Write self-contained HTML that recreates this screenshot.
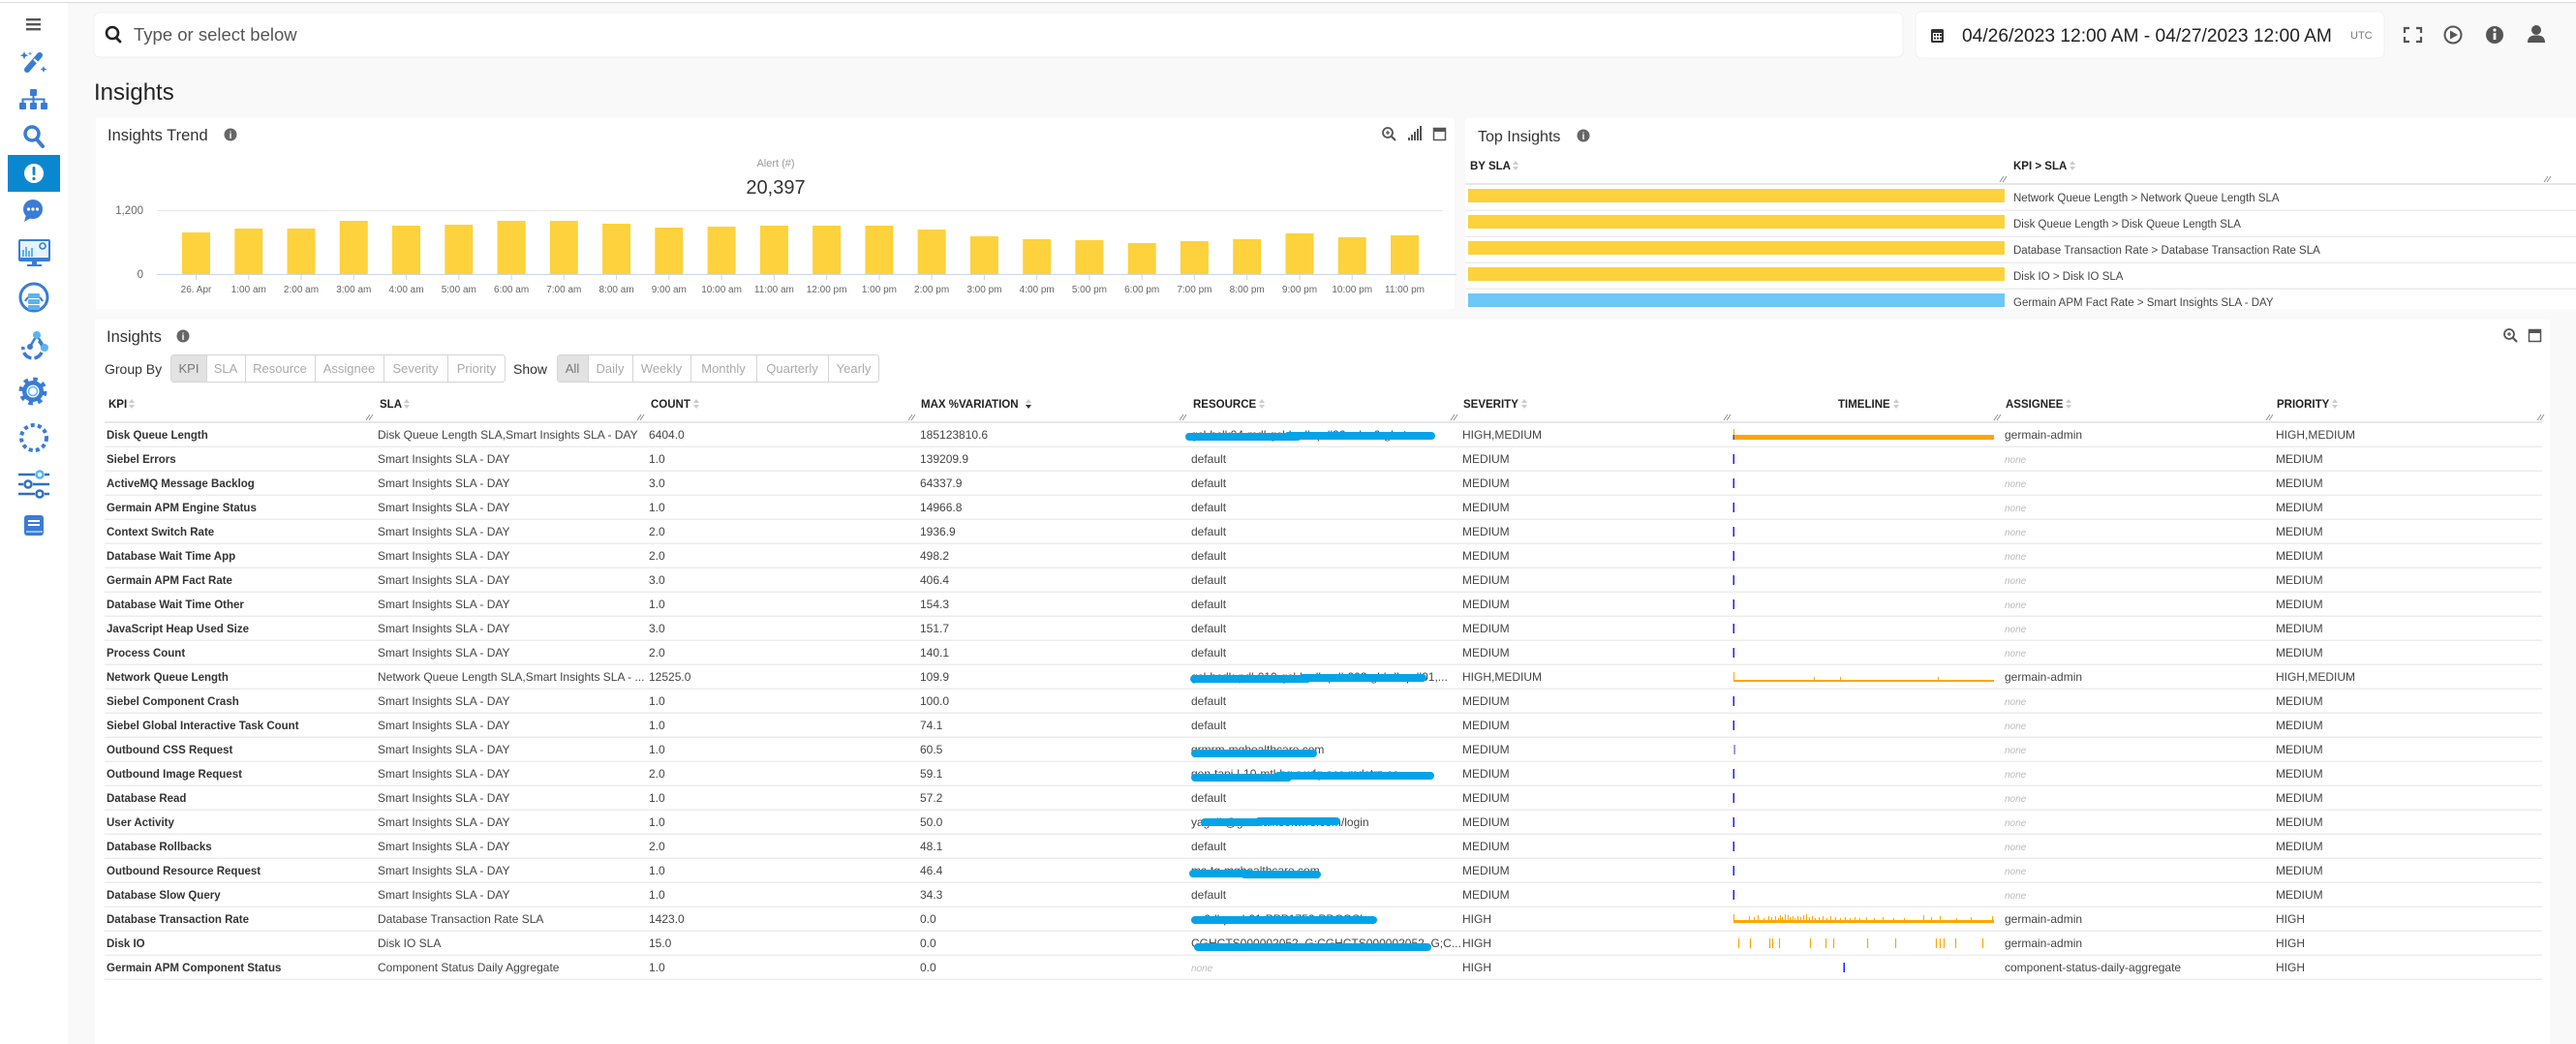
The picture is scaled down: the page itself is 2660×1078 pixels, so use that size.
<!DOCTYPE html>
<html><head><meta charset="utf-8">
<style>
html,body{margin:0;padding:0;background:#f9f9f9;overflow:hidden;}
svg{display:block;font-family:"Liberation Sans",Arial,sans-serif;}
.k{font-size:11.5px;font-weight:bold;fill:#333}
.r{font-size:12px;fill:#444}
.n{font-size:10px;font-style:italic;fill:#bbb}
.h{font-size:11.5px;font-weight:bold;fill:#222}
.tk{font-size:10px;fill:#666}
.bt{font-size:13px;fill:#aaa}
.ti{font-size:16.5px;fill:#333}
</style></head><body>
<svg width="2660" height="1078" viewBox="0 0 2660 1078" xmlns="http://www.w3.org/2000/svg">
<rect width="2660" height="1078" fill="#f9f9f9"/>
<rect x="0" y="0" width="2660" height="2" fill="#fff"/>
<rect x="0" y="2" width="2660" height="1.2" fill="#dcdcdc"/>
<!-- sidebar -->
<rect x="0" y="3" width="70" height="1075" fill="#fff"/>
<g fill="#555"><rect x="27" y="19" width="15" height="2.4"/><rect x="27" y="24" width="15" height="2.4"/><rect x="27" y="29" width="15" height="2.4"/></g>
<!-- wand -->
<line x1="28" y1="72" x2="41" y2="57" stroke="#3a7cd5" stroke-width="6" stroke-linecap="round"/>
<line x1="35" y1="61" x2="39" y2="65" stroke="#fff" stroke-width="2"/>
<path d="M25 53 l1.2 3 3 1.2 -3 1.2 -1.2 3 -1.2 -3 -3 -1.2 3 -1.2z" fill="#3a7cd5"/>
<path d="M45 68 l1 2.5 2.5 1 -2.5 1 -1 2.5 -1 -2.5 -2.5 -1 2.5 -1z" fill="#3a7cd5"/>
<path d="M31 53 l.7 1.6 1.6 .7 -1.6 .7 -.7 1.6 -.7 -1.6 -1.6 -.7 1.6 -.7z" fill="#5ab4f0"/>
<!-- sitemap -->
<g fill="#3a7cd5"><rect x="31" y="92" width="7" height="7" rx="1"/><rect x="20" y="106" width="7" height="7" rx="1"/><rect x="31" y="106" width="7" height="7" rx="1"/><rect x="42" y="106" width="7" height="7" rx="1"/></g>
<path d="M34.5 99 V106 M23.5 106 V102.5 H45.5 V106" stroke="#3a7cd5" stroke-width="2" fill="none"/>
<!-- search -->
<circle cx="33" cy="138" r="7" stroke="#3a7cd5" stroke-width="3.5" fill="none"/>
<line x1="38" y1="144" x2="44" y2="151" stroke="#3a7cd5" stroke-width="4" stroke-linecap="round"/>
<!-- active -->
<rect x="8" y="160" width="54" height="38" fill="#0a88cf"/>
<circle cx="35" cy="179" r="10" fill="#fff"/>
<rect x="33.6" y="172" width="2.8" height="9" rx="1" fill="#0a88cf"/><circle cx="35" cy="184.5" r="1.6" fill="#0a88cf"/>
<!-- chat -->
<circle cx="34" cy="216" r="10" fill="#3a7cd5"/><path d="M27 222 L25 229 L32 225z" fill="#3a7cd5"/>
<g fill="#fff"><circle cx="29.5" cy="216" r="1.6"/><circle cx="34" cy="216" r="1.6"/><circle cx="38.5" cy="216" r="1.6"/></g>
<!-- monitor -->
<rect x="19" y="247" width="33" height="23" rx="2" fill="#3a7cd5"/>
<rect x="21" y="249" width="29" height="17" fill="#e6f3fd"/>
<g fill="#5ab4f0"><rect x="23" y="258" width="2" height="7"/><rect x="26" y="255" width="2" height="10"/><rect x="29" y="259" width="2" height="6"/><rect x="32" y="256" width="2" height="9"/></g>
<circle cx="44" cy="254" r="3" stroke="#3a7cd5" stroke-width="1.6" fill="none"/>
<rect x="33" y="270" width="5" height="3" fill="#3a7cd5"/><rect x="28" y="273" width="15" height="2" fill="#3a7cd5"/>
<!-- db circle -->
<circle cx="35" cy="307" r="14" stroke="#3a7cd5" stroke-width="3" fill="none"/>
<path d="M26 311 A10 10 0 0 1 44 311" stroke="#3a7cd5" stroke-width="2" fill="none"/>
<g fill="#5ab4f0"><rect x="29" y="303" width="12" height="5" rx="1"/><rect x="29" y="309" width="12" height="5" rx="1"/><rect x="29" y="315" width="12" height="5" rx="1"/></g>
<!-- network -->
<path d="M40 352 A10 10 0 1 1 24 358" stroke="#3a7cd5" stroke-width="3.5" fill="none" stroke-dasharray="10 3"/>
<path d="M38 346 L31 358 M38 346 L46 359" stroke="#3a7cd5" stroke-width="2.5"/>
<circle cx="38" cy="346" r="4" fill="#5ab4f0"/><circle cx="46" cy="359" r="4" fill="#5ab4f0"/><circle cx="31" cy="358" r="3" fill="#3a7cd5"/>
<!-- gear -->
<circle cx="34" cy="404" r="11" fill="#3a7cd5"/>
<circle cx="34" cy="404" r="12.5" stroke="#3a7cd5" stroke-width="4" fill="none" stroke-dasharray="4.5 5.3"/>
<circle cx="34" cy="404" r="6.5" fill="#fff"/><circle cx="34" cy="404" r="4.5" stroke="#5ab4f0" stroke-width="1.5" fill="none"/>
<!-- dashed circle -->
<circle cx="35" cy="452" r="13" stroke="#3a7cd5" stroke-width="4" fill="none" stroke-dasharray="4 3.2"/>
<!-- sliders -->
<g stroke-width="2.5" fill="none">
<path d="M19 490 H36 M46 490 H51" stroke="#2f6fc4"/><circle cx="41" cy="490" r="3.5" stroke="#5ab4f0"/>
<path d="M19 500 H24 M34 500 H51" stroke="#2f6fc4"/><circle cx="29" cy="500" r="3.5" stroke="#2f6fc4"/>
<path d="M19 510 H36 M46 510 H51" stroke="#2f6fc4"/><circle cx="41" cy="510" r="3.5" stroke="#2f6fc4"/>
</g>
<!-- book -->
<rect x="25" y="532" width="20" height="21" rx="3" fill="#3a7cd5"/>
<rect x="29" y="537" width="12" height="2" fill="#fff"/><rect x="29" y="541" width="12" height="2" fill="#fff"/><rect x="27" y="548" width="17" height="2" fill="#8fc4f0"/>

<!-- top bar -->
<rect x="97" y="13" width="1868" height="46" rx="6" fill="#fff" stroke="#f0f0f0"/>
<circle cx="116" cy="34" r="6" stroke="#222" stroke-width="2.6" fill="none"/>
<line x1="120" y1="39" x2="124" y2="43" stroke="#222" stroke-width="2.8" stroke-linecap="round"/>
<text x="138" y="42" style="font-size:18.5px;fill:#555">Type or select below</text>
<rect x="1978" y="12" width="484" height="48" rx="6" fill="#fff" stroke="#f0f0f0"/>
<rect x="1994" y="30" width="13" height="14" rx="1.5" fill="#333"/>
<rect x="1996" y="34" width="9" height="8" fill="#fff"/>
<g fill="#333"><rect x="1997" y="35" width="2" height="2"/><rect x="2000" y="35" width="2" height="2"/><rect x="2003" y="35" width="2" height="2"/><rect x="1997" y="38.5" width="2" height="2"/><rect x="2000" y="38.5" width="2" height="2"/><rect x="2003" y="38.5" width="2" height="2"/></g>
<text x="2026" y="43" style="font-size:19.2px;fill:#222">04/26/2023 12:00 AM - 04/27/2023 12:00 AM</text>
<text x="2427" y="40" style="font-size:11px;fill:#777">UTC</text>
<path d="M2483 34 V29 H2488 M2495 29 H2500 V34 M2500 38 V43 H2495 M2488 43 H2483 V38" stroke="#555" stroke-width="2.2" fill="none"/>
<circle cx="2533" cy="36" r="8.5" stroke="#555" stroke-width="2" fill="none"/>
<path d="M2530 31.5 L2538 36 L2530 40.5z" fill="#555"/>
<circle cx="2576" cy="36" r="9" fill="#555"/>
<rect x="2574.6" y="34" width="2.8" height="7" fill="#fff"/><circle cx="2576" cy="31" r="1.6" fill="#fff"/>
<circle cx="2619" cy="31" r="5" fill="#555"/>
<path d="M2610 44 Q2610 36 2619 36.5 Q2628 36 2628 44z" fill="#555"/>

<text x="97" y="103" style="font-size:24px;fill:#222">Insights</text>

<!-- Insights Trend panel -->
<rect x="99" y="122" width="1403" height="197" fill="#fff"/>
<text x="111" y="145" class="ti">Insights Trend</text>
<circle cx="238" cy="139" r="6.5" fill="#666"/><text x="238" y="143" text-anchor="middle" style="font-size:10px;font-weight:bold;fill:#fff">i</text>
<!-- chart icons -->
<circle cx="1433" cy="137" r="5" stroke="#555" stroke-width="1.8" fill="none"/>
<line x1="1437" y1="141" x2="1441" y2="145" stroke="#555" stroke-width="2.2"/>
<path d="M1431 137 H1435 M1433 135 V139" stroke="#555" stroke-width="1.3"/>
<g fill="#555"><rect x="1454" y="142" width="2" height="3"/><rect x="1457" y="139" width="2" height="6"/><rect x="1460" y="136" width="2" height="9"/><rect x="1463" y="133" width="2" height="12"/><rect x="1466" y="130" width="2" height="15"/></g>
<rect x="1480.5" y="132.5" width="12" height="12" stroke="#555" stroke-width="1.5" fill="#fff"/>
<rect x="1480.5" y="132.5" width="12" height="3.5" fill="#555"/>
<text x="801" y="172" text-anchor="middle" style="font-size:11px;fill:#999">Alert (#)</text>
<text x="801" y="200" text-anchor="middle" style="font-size:20px;fill:#333">20,397</text>
<line x1="162" y1="217.5" x2="1490" y2="217.5" stroke="#e6e6e6" stroke-width="1"/>
<text x="148" y="221" text-anchor="end" style="font-size:11.5px;fill:#666">1,200</text>
<text x="148" y="287" text-anchor="end" style="font-size:11.5px;fill:#666">0</text>
<g fill="#fdd23c">
<rect x="188" y="240" width="29" height="43"/>
<rect x="242.3" y="236" width="29" height="47"/>
<rect x="296.5" y="236" width="29" height="47"/>
<rect x="350.8" y="228" width="29" height="55"/>
<rect x="405" y="233" width="29" height="50"/>
<rect x="459.3" y="232" width="29" height="51"/>
<rect x="513.6" y="228" width="29" height="55"/>
<rect x="567.8" y="228" width="29" height="55"/>
<rect x="622.1" y="231" width="29" height="52"/>
<rect x="676.3" y="235" width="29" height="48"/>
<rect x="730.6" y="234" width="29" height="49"/>
<rect x="784.9" y="233" width="29" height="50"/>
<rect x="839.1" y="233" width="29" height="50"/>
<rect x="893.4" y="233" width="29" height="50"/>
<rect x="947.6" y="237" width="29" height="46"/>
<rect x="1001.9" y="244" width="29" height="39"/>
<rect x="1056.2" y="247" width="29" height="36"/>
<rect x="1110.4" y="248" width="29" height="35"/>
<rect x="1164.7" y="251" width="29" height="32"/>
<rect x="1218.9" y="249" width="29" height="34"/>
<rect x="1273.2" y="247" width="29" height="36"/>
<rect x="1327.5" y="241" width="29" height="42"/>
<rect x="1381.7" y="245" width="29" height="38"/>
<rect x="1436" y="243" width="29" height="40"/>
</g>
<line x1="162" y1="283.5" x2="1504" y2="283.5" stroke="#ccd6eb" stroke-width="1"/>
<g stroke="#ccd6eb" stroke-width="1">
<path d="M202.5 284V289M256.8 284V289M311 284V289M365.3 284V289M419.5 284V289M473.8 284V289M528.1 284V289M582.3 284V289M636.6 284V289M690.8 284V289M745.1 284V289M799.4 284V289M853.6 284V289M907.9 284V289M962.1 284V289M1016.4 284V289M1070.7 284V289M1124.9 284V289M1179.2 284V289M1233.4 284V289M1287.7 284V289M1342 284V289M1396.2 284V289M1450.5 284V289"/>
</g>
<g class="tk" text-anchor="middle">
<text x="202.5" y="302">26. Apr</text><text x="256.8" y="302">1:00 am</text><text x="311" y="302">2:00 am</text><text x="365.3" y="302">3:00 am</text><text x="419.5" y="302">4:00 am</text><text x="473.8" y="302">5:00 am</text><text x="528.1" y="302">6:00 am</text><text x="582.3" y="302">7:00 am</text><text x="636.6" y="302">8:00 am</text><text x="690.8" y="302">9:00 am</text><text x="745.1" y="302">10:00 am</text><text x="799.4" y="302">11:00 am</text><text x="853.6" y="302">12:00 pm</text><text x="907.9" y="302">1:00 pm</text><text x="962.1" y="302">2:00 pm</text><text x="1016.4" y="302">3:00 pm</text><text x="1070.7" y="302">4:00 pm</text><text x="1124.9" y="302">5:00 pm</text><text x="1179.2" y="302">6:00 pm</text><text x="1233.4" y="302">7:00 pm</text><text x="1287.7" y="302">8:00 pm</text><text x="1342" y="302">9:00 pm</text><text x="1396.2" y="302">10:00 pm</text><text x="1450.5" y="302">11:00 pm</text>
</g>

<!-- Top Insights panel -->
<rect x="1513" y="122" width="1147" height="197" fill="#fff"/>
<text x="1526" y="146" style="font-size:16px;fill:#333">Top Insights</text>
<circle cx="1635" cy="140" r="6.5" fill="#666"/><text x="1635" y="144" text-anchor="middle" style="font-size:10px;font-weight:bold;fill:#fff">i</text>
<text x="1518" y="175" class="h">BY SLA</text>
<text x="2079" y="175" class="h">KPI &gt; SLA</text>
<g fill="#ccc"><path d="M1562 170 L1565 166 L1568 170z M1562 172 L1565 176 L1568 172z"/><path d="M2137 170 L2140 166 L2143 170z M2137 172 L2140 176 L2143 172z"/></g>
<g stroke="#888" stroke-width="0.9"><path d="M2065 188 L2069 182 M2068 188 L2072 182 M2627 188 L2631 182 M2630 188 L2634 182"/></g>
<rect x="1513" y="189" width="1147" height="2" fill="#e8e8e8"/>
<g fill="#ececec"><rect x="1513" y="216.5" width="1147" height="1.5"/><rect x="1513" y="243.5" width="1147" height="1.5"/><rect x="1513" y="270.5" width="1147" height="1.5"/><rect x="1513" y="297.5" width="1147" height="1.5"/></g>
<g fill="#fdd23c"><rect x="1516" y="195" width="554" height="14"/><rect x="1516" y="222" width="554" height="14"/><rect x="1516" y="249" width="554" height="14"/><rect x="1516" y="276" width="554" height="14"/></g>
<rect x="1516" y="303" width="554" height="14" fill="#6cc8f6"/>
<g style="font-size:11.5px;fill:#444">
<text x="2079" y="208">Network Queue Length &gt; Network Queue Length SLA</text>
<text x="2079" y="235">Disk Queue Length &gt; Disk Queue Length SLA</text>
<text x="2079" y="262">Database Transaction Rate &gt; Database Transaction Rate SLA</text>
<text x="2079" y="289">Disk IO &gt; Disk IO SLA</text>
<text x="2079" y="316">Germain APM Fact Rate &gt; Smart Insights SLA - DAY</text>
</g>
<rect x="1513" y="319" width="1147" height="11" fill="#f9f9f9"/>

<!-- Insights table panel -->
<rect x="98" y="330" width="2535" height="748" fill="#fff"/>
<text x="110" y="353" class="ti">Insights</text>
<circle cx="189" cy="347" r="6.5" fill="#666"/><text x="189" y="351" text-anchor="middle" style="font-size:10px;font-weight:bold;fill:#fff">i</text>
<circle cx="2591" cy="345" r="5" stroke="#555" stroke-width="1.8" fill="none"/>
<line x1="2595" y1="349" x2="2599" y2="353" stroke="#555" stroke-width="2.2"/>
<path d="M2589 345 H2593 M2591 343 V347" stroke="#555" stroke-width="1.3"/>
<rect x="2611.5" y="340.5" width="12" height="12" stroke="#555" stroke-width="1.5" fill="#fff"/>
<rect x="2611.5" y="340.5" width="12" height="3.5" fill="#555"/>

<text x="108" y="386" style="font-size:14px;fill:#333">Group By</text>
<rect x="176.5" y="366.5" width="345" height="28" rx="3" fill="#fff" stroke="#d5d5d5"/>
<rect x="177" y="367" width="36" height="27" fill="#e2e2e2"/>
<g stroke="#d5d5d5"><path d="M213.5 367V394M253.5 367V394M325.5 367V394M396.5 367V394M462.5 367V394"/></g>
<g class="bt" text-anchor="middle">
<text x="195" y="385" style="fill:#777">KPI</text><text x="233" y="385">SLA</text><text x="289" y="385">Resource</text><text x="360.5" y="385">Assignee</text><text x="429" y="385">Severity</text><text x="492" y="385">Priority</text>
</g>
<text x="530" y="386" style="font-size:14px;fill:#333">Show</text>
<rect x="575.5" y="366.5" width="332" height="28" rx="3" fill="#fff" stroke="#d5d5d5"/>
<rect x="576" y="367" width="31" height="27" fill="#e2e2e2"/>
<g stroke="#d5d5d5"><path d="M607.5 367V394M653.5 367V394M713.5 367V394M781.5 367V394M855.5 367V394"/></g>
<g class="bt" text-anchor="middle">
<text x="591" y="385" style="fill:#777">All</text><text x="630" y="385">Daily</text><text x="683" y="385">Weekly</text><text x="747" y="385">Monthly</text><text x="818" y="385">Quarterly</text><text x="881.5" y="385">Yearly</text>
</g>

<!-- table header -->
<g class="h">
<text x="112" y="421">KPI</text><text x="392" y="421">SLA</text><text x="672" y="421">COUNT</text><text x="951" y="421">MAX %VARIATION</text><text x="1232" y="421">RESOURCE</text><text x="1511" y="421">SEVERITY</text><text x="1898" y="421">TIMELINE</text><text x="2071" y="421">ASSIGNEE</text><text x="2351" y="421">PRIORITY</text>
</g>
<g fill="#ccc">
<path d="M133 416L136 412L139 416zM133 418L136 422L139 418z"/>
<path d="M417 416L420 412L423 416zM417 418L420 422L423 418z"/>
<path d="M716 416L719 412L722 416zM716 418L719 422L722 418z"/>
<path d="M1300 416L1303 412L1306 416zM1300 418L1303 422L1306 418z"/>
<path d="M1571 416L1574 412L1577 416zM1571 418L1574 422L1577 418z"/>
<path d="M1955 416L1958 412L1961 416zM1955 418L1958 422L1961 418z"/>
<path d="M2133 416L2136 412L2139 416zM2133 418L2136 422L2139 418z"/>
<path d="M2408 416L2411 412L2414 416zM2408 418L2411 422L2414 418z"/>
</g>
<path d="M1059 418L1062 422L1065 418z" fill="#333"/><path d="M1059 416L1062 412L1065 416z" fill="#ccc"/>
<g stroke="#888" stroke-width="0.9">
<path d="M378 434L382 428M381 434L385 428M658 434L662 428M661 434L665 428M938 434L942 428M941 434L945 428M1218 434L1222 428M1221 434L1225 428M1498 434L1502 428M1501 434L1505 428M1780 434L1784 428M1783 434L1787 428M2059 434L2063 428M2062 434L2066 428M2340 434L2344 428M2343 434L2347 428M2620 434L2624 428M2623 434L2627 428"/>
</g>
<rect x="108" y="435" width="2517" height="2" fill="#e6e6e6"/>
<g fill="#ececec">
<rect x="108" y="460.5" width="2517" height="1.5"/><rect x="108" y="485.5" width="2517" height="1.5"/><rect x="108" y="510.5" width="2517" height="1.5"/><rect x="108" y="535.5" width="2517" height="1.5"/><rect x="108" y="560.5" width="2517" height="1.5"/><rect x="108" y="585.5" width="2517" height="1.5"/><rect x="108" y="610.5" width="2517" height="1.5"/><rect x="108" y="635.5" width="2517" height="1.5"/><rect x="108" y="660.5" width="2517" height="1.5"/><rect x="108" y="685.5" width="2517" height="1.5"/><rect x="108" y="710.5" width="2517" height="1.5"/><rect x="108" y="735.5" width="2517" height="1.5"/><rect x="108" y="760.5" width="2517" height="1.5"/><rect x="108" y="785.5" width="2517" height="1.5"/><rect x="108" y="810.5" width="2517" height="1.5"/><rect x="108" y="835.5" width="2517" height="1.5"/><rect x="108" y="860.5" width="2517" height="1.5"/><rect x="108" y="885.5" width="2517" height="1.5"/><rect x="108" y="910.5" width="2517" height="1.5"/><rect x="108" y="935.5" width="2517" height="1.5"/><rect x="108" y="960.5" width="2517" height="1.5"/><rect x="108" y="985.5" width="2517" height="1.5"/><rect x="108" y="1010.5" width="2517" height="1.5"/>
</g>

<!-- rows -->
<g transform="translate(0,453)"><text x="110" class="k">Disk Queue Length</text><text x="390" class="r">Disk Queue Length SLA,Smart Insights SLA - DAY</text><text x="670" class="r">6404.0</text><text x="950" class="r">185123810.6</text><text x="1230" class="r">gcl-hclk04-mdl-gcl-hcdk-pdl26-xdw-0-gl-cts...</text><text x="1510" class="r">HIGH,MEDIUM</text><text x="2070" class="r">germain-admin</text><text x="2350" class="r">HIGH,MEDIUM</text></g>
<g transform="translate(0,478)"><text x="110" class="k">Siebel Errors</text><text x="390" class="r">Smart Insights SLA - DAY</text><text x="670" class="r">1.0</text><text x="950" class="r">139209.9</text><text x="1230" class="r">default</text><text x="1510" class="r">MEDIUM</text><text x="2070" class="n">none</text><text x="2350" class="r">MEDIUM</text></g>
<g transform="translate(0,503)"><text x="110" class="k">ActiveMQ Message Backlog</text><text x="390" class="r">Smart Insights SLA - DAY</text><text x="670" class="r">3.0</text><text x="950" class="r">64337.9</text><text x="1230" class="r">default</text><text x="1510" class="r">MEDIUM</text><text x="2070" class="n">none</text><text x="2350" class="r">MEDIUM</text></g>
<g transform="translate(0,528)"><text x="110" class="k">Germain APM Engine Status</text><text x="390" class="r">Smart Insights SLA - DAY</text><text x="670" class="r">1.0</text><text x="950" class="r">14966.8</text><text x="1230" class="r">default</text><text x="1510" class="r">MEDIUM</text><text x="2070" class="n">none</text><text x="2350" class="r">MEDIUM</text></g>
<g transform="translate(0,553)"><text x="110" class="k">Context Switch Rate</text><text x="390" class="r">Smart Insights SLA - DAY</text><text x="670" class="r">2.0</text><text x="950" class="r">1936.9</text><text x="1230" class="r">default</text><text x="1510" class="r">MEDIUM</text><text x="2070" class="n">none</text><text x="2350" class="r">MEDIUM</text></g>
<g transform="translate(0,578)"><text x="110" class="k">Database Wait Time App</text><text x="390" class="r">Smart Insights SLA - DAY</text><text x="670" class="r">2.0</text><text x="950" class="r">498.2</text><text x="1230" class="r">default</text><text x="1510" class="r">MEDIUM</text><text x="2070" class="n">none</text><text x="2350" class="r">MEDIUM</text></g>
<g transform="translate(0,603)"><text x="110" class="k">Germain APM Fact Rate</text><text x="390" class="r">Smart Insights SLA - DAY</text><text x="670" class="r">3.0</text><text x="950" class="r">406.4</text><text x="1230" class="r">default</text><text x="1510" class="r">MEDIUM</text><text x="2070" class="n">none</text><text x="2350" class="r">MEDIUM</text></g>
<g transform="translate(0,628)"><text x="110" class="k">Database Wait Time Other</text><text x="390" class="r">Smart Insights SLA - DAY</text><text x="670" class="r">1.0</text><text x="950" class="r">154.3</text><text x="1230" class="r">default</text><text x="1510" class="r">MEDIUM</text><text x="2070" class="n">none</text><text x="2350" class="r">MEDIUM</text></g>
<g transform="translate(0,653)"><text x="110" class="k">JavaScript Heap Used Size</text><text x="390" class="r">Smart Insights SLA - DAY</text><text x="670" class="r">3.0</text><text x="950" class="r">151.7</text><text x="1230" class="r">default</text><text x="1510" class="r">MEDIUM</text><text x="2070" class="n">none</text><text x="2350" class="r">MEDIUM</text></g>
<g transform="translate(0,678)"><text x="110" class="k">Process Count</text><text x="390" class="r">Smart Insights SLA - DAY</text><text x="670" class="r">2.0</text><text x="950" class="r">140.1</text><text x="1230" class="r">default</text><text x="1510" class="r">MEDIUM</text><text x="2070" class="n">none</text><text x="2350" class="r">MEDIUM</text></g>
<g transform="translate(0,703)"><text x="110" class="k">Network Queue Length</text><text x="390" class="r">Network Queue Length SLA,Smart Insights SLA - ...</text><text x="670" class="r">12525.0</text><text x="950" class="r">109.9</text><text x="1230" class="r">gcl-hcdk-pdl-010-gcl-hcdk-pdl-002-gl-hdk-pdl01,...</text><text x="1510" class="r">HIGH,MEDIUM</text><text x="2070" class="r">germain-admin</text><text x="2350" class="r">HIGH,MEDIUM</text></g>
<g transform="translate(0,728)"><text x="110" class="k">Siebel Component Crash</text><text x="390" class="r">Smart Insights SLA - DAY</text><text x="670" class="r">1.0</text><text x="950" class="r">100.0</text><text x="1230" class="r">default</text><text x="1510" class="r">MEDIUM</text><text x="2070" class="n">none</text><text x="2350" class="r">MEDIUM</text></g>
<g transform="translate(0,753)"><text x="110" class="k">Siebel Global Interactive Task Count</text><text x="390" class="r">Smart Insights SLA - DAY</text><text x="670" class="r">1.0</text><text x="950" class="r">74.1</text><text x="1230" class="r">default</text><text x="1510" class="r">MEDIUM</text><text x="2070" class="n">none</text><text x="2350" class="r">MEDIUM</text></g>
<g transform="translate(0,778)"><text x="110" class="k">Outbound CSS Request</text><text x="390" class="r">Smart Insights SLA - DAY</text><text x="670" class="r">1.0</text><text x="950" class="r">60.5</text><text x="1230" class="r">grmrm-mghealthcare.com</text><text x="1510" class="r">MEDIUM</text><text x="2070" class="n">none</text><text x="2350" class="r">MEDIUM</text></g>
<g transform="translate(0,803)"><text x="110" class="k">Outbound Image Request</text><text x="390" class="r">Smart Insights SLA - DAY</text><text x="670" class="r">2.0</text><text x="950" class="r">59.1</text><text x="1230" class="r">gen-tapi-l-10-mtl-bg-r-wfg-acc-mdstrz-co...</text><text x="1510" class="r">MEDIUM</text><text x="2070" class="n">none</text><text x="2350" class="r">MEDIUM</text></g>
<g transform="translate(0,828)"><text x="110" class="k">Database Read</text><text x="390" class="r">Smart Insights SLA - DAY</text><text x="670" class="r">1.0</text><text x="950" class="r">57.2</text><text x="1230" class="r">default</text><text x="1510" class="r">MEDIUM</text><text x="2070" class="n">none</text><text x="2350" class="r">MEDIUM</text></g>
<g transform="translate(0,853)"><text x="110" class="k">User Activity</text><text x="390" class="r">Smart Insights SLA - DAY</text><text x="670" class="r">1.0</text><text x="950" class="r">50.0</text><text x="1230" class="r">yagnik@germainsoftwre.com/login</text><text x="1510" class="r">MEDIUM</text><text x="2070" class="n">none</text><text x="2350" class="r">MEDIUM</text></g>
<g transform="translate(0,878)"><text x="110" class="k">Database Rollbacks</text><text x="390" class="r">Smart Insights SLA - DAY</text><text x="670" class="r">2.0</text><text x="950" class="r">48.1</text><text x="1230" class="r">default</text><text x="1510" class="r">MEDIUM</text><text x="2070" class="n">none</text><text x="2350" class="r">MEDIUM</text></g>
<g transform="translate(0,903)"><text x="110" class="k">Outbound Resource Request</text><text x="390" class="r">Smart Insights SLA - DAY</text><text x="670" class="r">1.0</text><text x="950" class="r">46.4</text><text x="1230" class="r">ms-tg-mghealthcare.com</text><text x="1510" class="r">MEDIUM</text><text x="2070" class="n">none</text><text x="2350" class="r">MEDIUM</text></g>
<g transform="translate(0,928)"><text x="110" class="k">Database Slow Query</text><text x="390" class="r">Smart Insights SLA - DAY</text><text x="670" class="r">1.0</text><text x="950" class="r">34.3</text><text x="1230" class="r">default</text><text x="1510" class="r">MEDIUM</text><text x="2070" class="n">none</text><text x="2350" class="r">MEDIUM</text></g>
<g transform="translate(0,953)"><text x="110" class="k">Database Transaction Rate</text><text x="390" class="r">Database Transaction Rate SLA</text><text x="670" class="r">1423.0</text><text x="950" class="r">0.0</text><text x="1230" class="r">ee0-lbpcel-01-PPP1756-PDCOSl</text><text x="1510" class="r">HIGH</text><text x="2070" class="r">germain-admin</text><text x="2350" class="r">HIGH</text></g>
<g transform="translate(0,978)"><text x="110" class="k">Disk IO</text><text x="390" class="r">Disk IO SLA</text><text x="670" class="r">15.0</text><text x="950" class="r">0.0</text><text x="1230" class="r">CGHCTS000002052_G;CGHCTS000002052_G;C...</text><text x="1510" class="r">HIGH</text><text x="2070" class="r">germain-admin</text><text x="2350" class="r">HIGH</text></g>
<g transform="translate(0,1003)"><text x="110" class="k">Germain APM Component Status</text><text x="390" class="r">Component Status Daily Aggregate</text><text x="670" class="r">1.0</text><text x="950" class="r">0.0</text><text x="1230" class="n">none</text><text x="1510" class="r">HIGH</text><text x="2070" class="r">component-status-daily-aggregate</text><text x="2350" class="r">HIGH</text></g>

<!-- redaction scribbles -->
<g stroke="#03a3e8" stroke-linecap="round" fill="none">
<path d="M1228 451 H1340 M1330 450 H1478" stroke-width="8"/>
<path d="M1233 701 H1350 M1345 700 H1469" stroke-width="8"/>
<path d="M1234 778 H1356" stroke-width="8"/>
<path d="M1234 803 H1330 M1320 801 H1477" stroke-width="8"/>
<path d="M1244 849 H1300 M1300 848 H1380" stroke-width="8"/>
<path d="M1232 902 H1290 M1285 903 H1360" stroke-width="8"/>
<path d="M1234 950 H1418" stroke-width="8"/>
<path d="M1237 978 H1474" stroke-width="8"/>
</g>

<!-- timelines -->
<rect x="1790" y="449" width="269" height="5" fill="#ffa500"/>
<rect x="1790" y="443" width="1" height="6" fill="#ffa500"/>
<rect x="1789.5" y="449" width="1.2" height="5" fill="#2222dd"/>
<g fill="#2222dd">
<rect x="1789.5" y="469" width="1.5" height="10"/><rect x="1789.5" y="494" width="1.5" height="10"/><rect x="1789.5" y="519" width="1.5" height="10"/><rect x="1789.5" y="544" width="1.5" height="10"/><rect x="1789.5" y="569" width="1.5" height="10"/><rect x="1789.5" y="594" width="1.5" height="10"/><rect x="1789.5" y="619" width="1.5" height="10"/><rect x="1789.5" y="644" width="1.5" height="10"/><rect x="1789.5" y="669" width="1.5" height="10"/>
<rect x="1789.5" y="719" width="1.5" height="10"/><rect x="1789.5" y="744" width="1.5" height="10"/><rect x="1790.5" y="769" width="1.2" height="10" fill="#5b5bee"/><rect x="1789.5" y="794" width="1.5" height="10"/><rect x="1789.5" y="819" width="1.5" height="10"/><rect x="1789.5" y="844" width="1.5" height="10"/><rect x="1789.5" y="869" width="1.5" height="10"/><rect x="1789.5" y="894" width="1.5" height="10"/><rect x="1789.5" y="919" width="1.5" height="10"/>
<rect x="1903.5" y="994" width="1.5" height="10"/>
</g>
<!-- network queue timeline -->
<rect x="1790" y="702" width="269" height="2" fill="#ffa500"/>
<g stroke="#ffa500" stroke-width="1"><path d="M1790.5 694V704M1873.5 699V703M1900.5 699V703M2001.5 699V703"/></g>
<!-- db transaction rate timeline -->
<rect x="1790" y="950" width="269" height="3" fill="#ffa500"/>
<g stroke="#ffa500" stroke-width="1">
<path d="M1790.5 944V953M1806.5 946V951M1811.5 947V951M1815.5 945V951M1821.5 948V951M1826.5 946V951M1829.5 947V951M1833.5 946V951M1836.5 948V951M1838.5 945V951M1840.5 947V951M1843.5 944V951M1846.5 945V951M1848.5 947V951M1851.5 946V951M1853.5 948V951M1856.5 946V951M1859.5 947V951M1862.5 945V951M1865.5 944V951M1868.5 947V951M1871.5 946V951M1874.5 948V951M1878.5 947V951M1882.5 946V951M1886.5 948V951M1890.5 946V951M1895.5 947V951M1900.5 948V951M1905.5 947V951M1910.5 948V951M1915.5 947V951M1920.5 948V951M1927.5 947V951M1935.5 948V951M1944.5 947V951M1955.5 948V951M1966.5 948V951M1986.5 945V951M1994.5 947V951M2003.5 946V951M2020.5 948V951M2035.5 947V951M2057.5 946V951"/>
</g>
<!-- disk io timeline -->
<g stroke="#ffa500" stroke-width="1.2">
<path d="M1795.5 969V979M1807.5 969V979M1827.5 969V979M1830.5 969V979M1837.5 969V979M1869.5 969V979M1885.5 969V979M1893.5 969V979M1928.5 969V979M1957.5 969V979M1999.5 969V979M2003.5 969V979M2007.5 969V979M2019.5 969V979M2047.5 969V979"/>
</g>
</svg>
</body></html>
